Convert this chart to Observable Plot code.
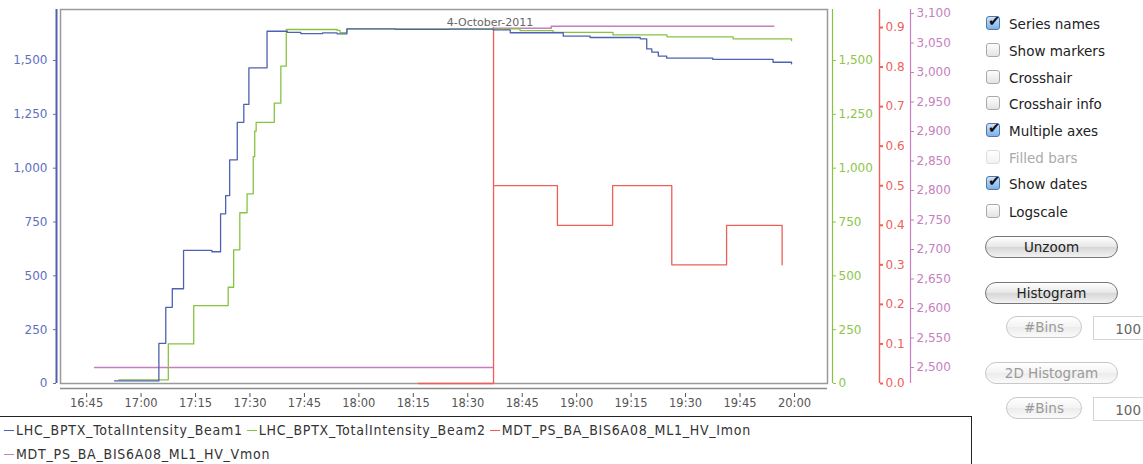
<!DOCTYPE html>
<html>
<head>
<meta charset="utf-8">
<script src="https://cdn.jsdelivr.net/npm/d3@7"></script>
<script src="https://cdn.jsdelivr.net/npm/@observablehq/plot@0.6"></script>
<style>
  html, body { margin: 0; padding: 0; background: #fff; }
  #wrap { position: relative; width: 1143px; height: 464px; overflow: hidden; font-family: "DejaVu Sans", sans-serif; }
  #chart { position: absolute; left: 0; top: 0; }
  #legend { position: absolute; left: -2px; top: 416px; width: 973px; height: 60px; border-top: 1px solid #222; border-right: 1px solid #222; font-family: "DejaVu Sans Condensed", sans-serif; font-size: 14px; letter-spacing: 0.75px; color: #333; }
  .lrow { position: absolute; left: 6px; white-space: nowrap; height: 16px; line-height: 16px; }
  .litem { display: inline-block; margin-right: 4px; }
  .sw { display: inline-block; width: 10px; height: 0; border-top: 1.5px solid; vertical-align: middle; margin-right: 2px; position: relative; top: -1px; }
  #controls { position: absolute; left: 985px; top: 0; width: 158px; height: 464px; font-family: "DejaVu Sans", sans-serif; font-size: 13.5px; color: #222; }
  .cb { position: absolute; left: 1px; height: 18px; line-height: 18px; white-space: nowrap; }
  .box { position: absolute; left: 0; top: 1px; width: 14px; height: 14px; border: 1px solid #a9a9a9; border-radius: 3px; background: linear-gradient(#fdfdfd, #e4e4e4); box-sizing: border-box; }
  .box.on { border-color: #4a79b5; background: linear-gradient(#cfe3f8, #7fb0e6); }
  .box.on::after { content: "\2714"; position: absolute; left: 1px; top: -5px; font-size: 15px; color: #111; }
  .box.dis { border-color: #ddd; background: linear-gradient(#fff, #f2f2f2); }
  .cb span { position: absolute; left: 23px; top: 0; }
  .cb.dis span { color: #aaa; }
  .btn { position: absolute; height: 20px; border: 1px solid #777; border-radius: 11px; background: linear-gradient(#ffffff, #e6e6e6 50%, #d6d6d6 51%, #f2f2f2); text-align: center; line-height: 20px; font-size: 13.5px; color: #222; box-sizing: content-box; }
  .btn.dis { border-color: #c8c8c8; color: #9a9a9a; background: linear-gradient(#ffffff, #f3f3f3 50%, #ececec 51%, #fafafa); }
  .inp { position: absolute; height: 24px; border: 1px solid #d4d4d4; border-right: none; text-align: right; line-height: 24px; font-size: 13.5px; color: #666; padding-right: 4px; box-sizing: border-box; }
</style>
</head>
<body>
<div id="wrap">
  <div id="chart"></div>
  <div id="legend"></div>
  <div id="controls"></div>
</div>
<script>
// ---------- data (minutes after 16:00 UTC on 4 October 2011) ----------
const dateLabel = "4-October-2011";
const seriesNames = ["LHC_BPTX_TotalIntensity_Beam1", "LHC_BPTX_TotalIntensity_Beam2", "MDT_PS_BA_BIS6A08_ML1_HV_Imon", "MDT_PS_BA_BIS6A08_ML1_HV_Vmon"];
const seriesColors = ["#4f61b1", "#86c440", "#ef5f58", "#c77dbf"];

const beam1Minutes = [52.7, 64.9, 66.8, 68.6, 71.7, 79.5, 81.9, 83.3, 84.4, 86.5, 88.3, 89.7, 94.7, 100.3, 104, 110, 114.0, 116.7, 130, 145, 157.0, 161.7, 176.3, 183.7, 197.5, 199.3, 200.7, 202.5, 204.8, 217.5, 234.1, 239.2];
const beam1Values  = [12, 186, 354, 440, 618, 612, 788, 873, 1039, 1213, 1296, 1466, 1636, 1631, 1625, 1628, 1624, 1647, 1645, 1646, 1642, 1629, 1613, 1607, 1601, 1554, 1539, 1520, 1511, 1505, 1492, 1485];

const beam2Minutes = [53.9, 67.5, 74.5, 84.0, 85.5, 87.2, 89.2, 90.9, 91.3, 91.7, 96.7, 98.5, 100.0, 114.0, 114.8, 116.7, 157.0, 164.4, 173.5, 190.0, 204.9, 223.1, 239.2];
const beam2Values  = [17, 184, 362, 447, 621, 793, 881, 1054, 1172, 1213, 1302, 1474, 1644, 1640, 1630, 1647, 1647, 1639, 1631, 1619, 1610, 1601, 1593];

const imonMinutes = [136.4, 157.1, 157.1, 174.7, 189.9, 206.2, 206.2, 221.3, 236.6];
const imonValues  = [0, 0.9, 0.5, 0.4, 0.5, 0.4, 0.3, 0.4, 0.3];

const vmonMinutes = [47.2, 157.0, 157.0, 157.0, 173.0, 234.3];
const vmonValues  = [2500, 2500, NaN, 3075, 3078.5, 3078.5];

const xTickMinutes = [45, 60, 75, 90, 105, 120, 135, 150, 165, 180, 195, 210, 225, 240];
const blueTicks  = [0, 250, 500, 750, 1000, 1250, 1500];
const greenTicks = [0, 250, 500, 750, 1000, 1250, 1500];
const redTicks   = [0, 0.1, 0.2, 0.3, 0.4, 0.5, 0.6, 0.7, 0.8, 0.9];
const pinkTicks  = [2500, 2550, 2600, 2650, 2700, 2750, 2800, 2850, 2900, 2950, 3000, 3050, 3100];

const xDomainMinutes = [37.8, 249.1];
const yDomain = [0, 1737];

// ---------- helpers ----------
const base = Date.UTC(2011, 9, 4, 16, 0, 0);
const T = m => new Date(base + m * 60000);
// secondary axes mapped onto the primary (beam) scale
const RED_K = 1837.1;
const toRed = v => v * RED_K;
const PINK_K = 2.7398, PINK_OFF = 74.3;
const toPink = v => (v - 2500) * PINK_K + PINK_OFF;
const fromPink = y => (y - PINK_OFF) / PINK_K + 2500;

const mk = (mins, vals, f = v => v) => mins.map((m, i) => ({t: T(m), v: Number.isFinite(vals[i]) ? f(vals[i]) : NaN}));
const beam1 = mk(beam1Minutes, beam1Values);
const beam2 = mk(beam2Minutes, beam2Values);
const imon = mk(imonMinutes, imonValues, toRed);
const vmon = mk(vmonMinutes, vmonValues, toPink);

const [cBlue, cGreen, cRed, cPink] = seriesColors;
const xd = xDomainMinutes.map(T);
const fmt = d3.format(",");

const chart = Plot.plot({
  width: 980,
  height: 416,
  marginLeft: 60,
  marginRight: 153,
  marginTop: 9,
  marginBottom: 28,
  style: {fontFamily: "DejaVu Sans, sans-serif", fontSize: "11.5px", background: "transparent"},
  x: {type: "utc", domain: xd},
  y: {domain: yDomain, insetBottom: 5},
  marks: [
    Plot.frame({insetBottom: 5, stroke: "#9a9a9a", strokeWidth: 1.5}),
    // x axis
    Plot.ruleY([0], {x1: xd[0], x2: xd[1], dy: 5, stroke: "#8a8a8a", strokeWidth: 1.5}),
    Plot.axisX({ticks: xTickMinutes.map(T), tickFormat: d3.utcFormat("%H:%M"), tickSize: 4, tickPadding: 1, label: null, color: "#555", fontSize: 11.5, dy: 5}),
    // blue (left) axis
    Plot.ruleX([xd[0]], {y1: yDomain[0], y2: yDomain[1], dx: -4, stroke: cBlue, strokeWidth: 2}),
    Plot.axisY({anchor: "left", ticks: blueTicks, tickFormat: fmt, tickSize: 3, tickPadding: 6, dx: -4, label: null, color: "#5f6fc0", fontSize: 12}),
    // green axis
    Plot.ruleX([xd[1]], {y1: yDomain[0], y2: yDomain[1], dx: 5, stroke: cGreen, strokeWidth: 1.2}),
    Plot.axisY({anchor: "right", ticks: greenTicks, tickFormat: fmt, tickSize: 3, tickPadding: 3, dx: 5, label: null, color: "#8cc64a", fontSize: 12}),
    // red axis
    Plot.ruleX([xd[1]], {y1: yDomain[0], y2: yDomain[1], dx: 52, stroke: cRed, strokeWidth: 1.4}),
    Plot.axisY({anchor: "right", ticks: redTicks.map(toRed), tickFormat: v => (v / RED_K).toFixed(1), tickSize: 3, tickPadding: 3, dx: 52, label: null, color: "#f0605a", fontSize: 12, strokeWidth: 2}),
    // pink axis
    Plot.ruleX([xd[1]], {y1: yDomain[0], y2: yDomain[1], dx: 83, stroke: cPink, strokeWidth: 1.2}),
    Plot.axisY({anchor: "right", ticks: pinkTicks.map(toPink), tickFormat: v => fmt(Math.round(fromPink(v))), tickSize: 3, tickPadding: 3, dx: 83, label: null, color: "#c67fbf", fontSize: 12}),
    // series
    Plot.line(vmon, {x: "t", y: "v", curve: "step-after", stroke: cPink, strokeWidth: 1.6}),
    Plot.line(imon, {x: "t", y: "v", curve: "step-after", stroke: cRed, strokeWidth: 1.3}),
    Plot.line(beam2, {x: "t", y: "v", curve: "step-after", stroke: cGreen, strokeWidth: 1.3}),
    Plot.line(beam1, {x: "t", y: "v", curve: "step-after", stroke: cBlue, strokeWidth: 1.3}),
    // date label
    Plot.text([dateLabel], {frameAnchor: "top", dx: 46, dy: 9, fill: "#666", fontSize: 11})
  ]
});
document.getElementById("chart").appendChild(chart);

// ---------- legend ----------
const legend = document.getElementById("legend");
const rows = [[0, 1, 2], [3]];
const rowTops = [5, 29];
rows.forEach((r, ri) => {
  const row = document.createElement("div");
  row.className = "lrow";
  row.style.top = rowTops[ri] + "px";
  r.forEach(i => {
    const it = document.createElement("span");
    it.className = "litem";
    it.innerHTML = `<span class="sw" style="border-color:${seriesColors[i]}"></span>${seriesNames[i]}`;
    row.appendChild(it);
  });
  legend.appendChild(row);
});

// ---------- controls ----------
const checkNames = ["Series names", "Show markers", "Crosshair", "Crosshair info", "Multiple axes", "Filled bars", "Show dates", "Logscale"];
const checkStates = ["on", "", "", "", "on", "dis", "on", ""];
const checkTops = [15, 42, 69, 95, 122, 149, 175, 203];
const controls = document.getElementById("controls");
checkNames.forEach((n, i) => {
  const d = document.createElement("div");
  d.className = "cb" + (checkStates[i] === "dis" ? " dis" : "");
  d.style.top = checkTops[i] + "px";
  d.innerHTML = `<div class="box ${checkStates[i]}"></div><span>${n}</span>`;
  controls.appendChild(d);
});
const buttons = [
  {label: "Unzoom", l: 0, t: 236, w: 131, dis: false},
  {label: "Histogram", l: 0, t: 282, w: 131, dis: false},
  {label: "#Bins", l: 21, t: 316, w: 74, dis: true},
  {label: "2D Histogram", l: 0, t: 362, w: 131, dis: true},
  {label: "#Bins", l: 21, t: 397, w: 74, dis: true}
];
buttons.forEach(b => {
  const d = document.createElement("div");
  d.className = "btn" + (b.dis ? " dis" : "");
  Object.assign(d.style, {left: b.l + "px", top: b.t + "px", width: b.w + "px"});
  d.textContent = b.label;
  controls.appendChild(d);
});
const inputs = [{t: 316, v: "100"}, {t: 397, v: "100"}];
inputs.forEach(p => {
  const d = document.createElement("div");
  d.className = "inp";
  Object.assign(d.style, {left: "108px", top: p.t + "px", width: "52px"});
  d.textContent = p.v;
  controls.appendChild(d);
});
</script>
</body>
</html>
